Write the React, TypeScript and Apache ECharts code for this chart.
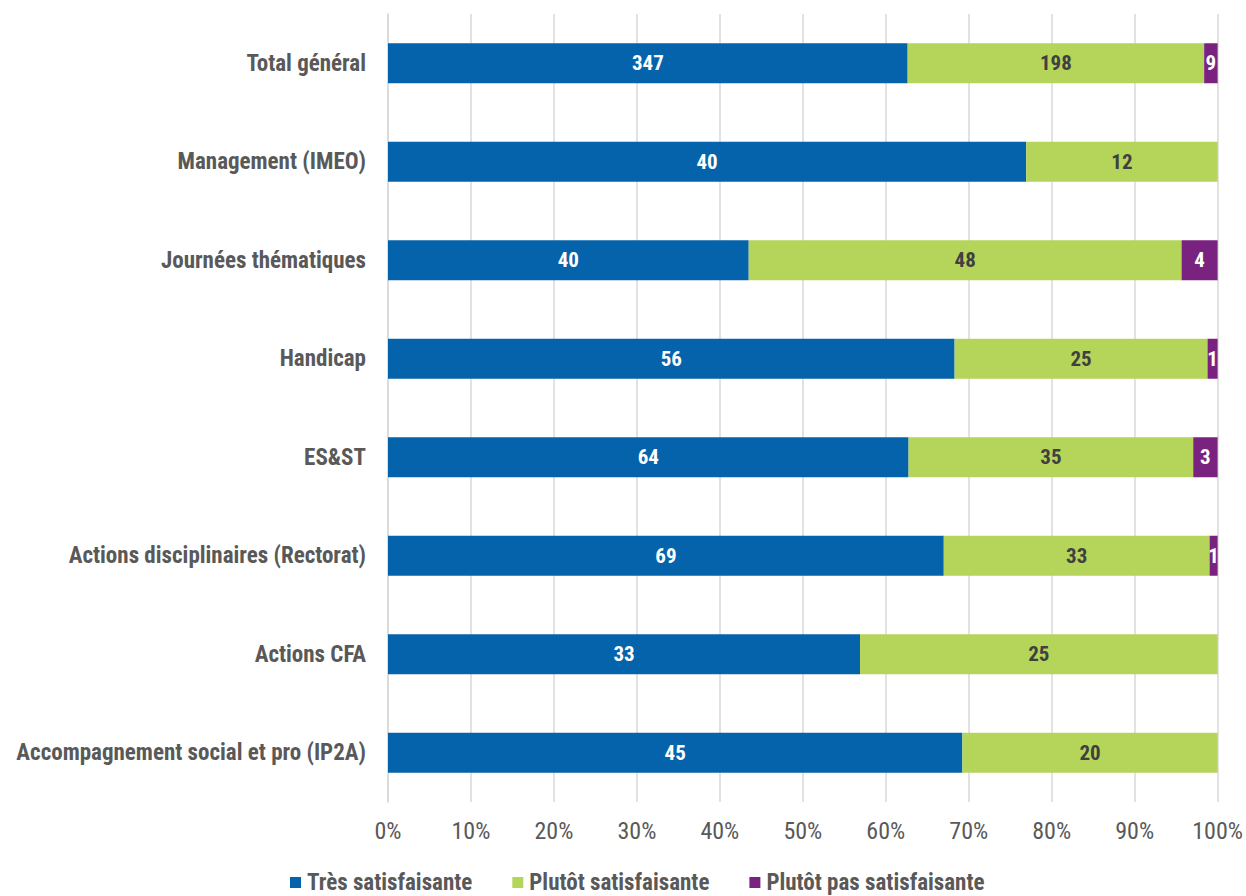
import React, { useEffect, useRef } from "react";
import * as echarts from "echarts";

const categories = [
  "Total général",
  "Management (IMEO)",
  "Journées thématiques",
  "Handicap",
  "ES&ST",
  "Actions disciplinaires (Rectorat)",
  "Actions CFA",
  "Accompagnement social et pro (IP2A)",
];
const tresSatisfaisante = [347, 40, 40, 56, 64, 69, 33, 45];
const plutotSatisfaisante = [198, 12, 48, 25, 35, 33, 25, 20];
const plutotPasSatisfaisante = [9, 0, 4, 1, 3, 1, 0, 0];
const seriesNames = ["Très satisfaisante", "Plutôt satisfaisante", "Plutôt pas satisfaisante"];
const colors = ["#0563AC", "#B5D55A", "#7A2280"];
const labelColors = ["#ffffff", "#404040", "#ffffff"];

const FONT = '"Liberation Sans Narrow", "Arial Narrow", "Roboto Condensed", "Liberation Sans", Arial, sans-serif';

export default function App() {
  const ref = useRef<HTMLDivElement>(null);
  useEffect(() => {
    document.body.style.margin = "0";
    if (!ref.current) return;
    const chart = echarts.init(ref.current, undefined, { renderer: "svg" });
    const raw = [tresSatisfaisante, plutotSatisfaisante, plutotPasSatisfaisante];
    const totals = categories.map((_, i) => raw.reduce((s, arr) => s + arr[i], 0));
    const series = raw.map((arr, k) => ({
      name: seriesNames[k],
      type: "bar",
      stack: "total",
      barWidth: 40,
      itemStyle: { color: colors[k] },
      label: {
        show: true,
        position: "inside",
        color: labelColors[k],
        fontFamily: FONT,
        fontWeight: "bold",
        fontSize: 21,
        formatter: (p: any) => (arr[p.dataIndex] ? String(arr[p.dataIndex]) : ""),
      },
      data: arr.map((v, i) => (v / totals[i]) * 100),
    }));
    chart.setOption({
      animation: false,
      textStyle: { fontFamily: FONT },
      grid: { left: 388, right: 28, top: 14, bottom: 94, containLabel: false },
      legend: {
        left: 290,
        top: 871,
        padding: 0,
        itemWidth: 11,
        itemHeight: 11,
        itemGap: 40,
        icon: "rect",
        textStyle: { fontFamily: FONT, fontWeight: "bold", fontSize: 23, color: "#595959", padding: [0, 0, 0, 1] },
        data: seriesNames,
      },
      xAxis: {
        type: "value",
        min: 0,
        max: 100,
        interval: 10,
        axisLine: { show: false },
        axisTick: { show: false },
        axisLabel: {
          formatter: "{value}%",
          fontFamily: FONT,
          fontSize: 24,
          color: "#595959",
          margin: 17,
        },
        splitLine: { show: true, lineStyle: { color: "#d9d9d9", width: 1.5 } },
      },
      yAxis: {
        type: "category",
        inverse: true,
        data: categories,
        axisLine: { show: true, lineStyle: { color: "#d9d9d9", width: 1.5 } },
        axisTick: { show: false },
        axisLabel: {
          fontFamily: FONT,
          fontWeight: "bold",
          fontSize: 23,
          color: "#595959",
          margin: 22,
        },
      },
      series,
    });
    return () => chart.dispose();
  }, []);
  return <div ref={ref} style={{ width: 1246, height: 896 }} />;
}
